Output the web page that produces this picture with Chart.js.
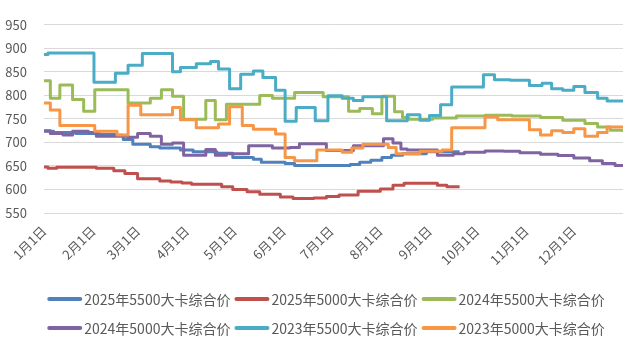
<!DOCTYPE html>
<html>
<head>
<meta charset="utf-8">
<script src="https://cdn.jsdelivr.net/npm/chart.js@4.4.0/dist/chart.umd.min.js"></script>
<style>
    html, body { margin: 0; padding: 0; background: #fff; }
    #wrap { width: 635px; height: 344px; }
</style>
</head>
<body>
<div id="wrap"><canvas id="priceChart" width="635" height="344"></canvas></div>
<script>
// 动力煤综合价 年度对比 (x = 一年中的第几天, y = 元/吨)
const monthLabels = ['1月1日', '2月1日', '3月1日', '4月1日', '5月1日', '6月1日',
                     '7月1日', '8月1日', '9月1日', '10月1日', '11月1日', '12月1日'];
const monthStartDays = [0, 31, 59, 90, 120, 151, 181, 212, 243, 273, 304, 334];

const seriesNames = ['2025年5500大卡综合价', '2025年5000大卡综合价', '2024年5500大卡综合价',
                     '2024年5000大卡综合价', '2023年5500大卡综合价', '2023年5000大卡综合价'];
const seriesColors = ['#4F81BD', '#C0504D', '#9BBB59', '#8064A2', '#4BACC6', '#F79646'];

// [day, price] - price holds until the next day listed
const price2025_5500 = [[0,724],[6,721],[20,719],[35,717],[45,715],[50,706],[56,696],[67,691],[73,688],
    [86,684],[94,680],[109,677],[119,668],[132,664],[137,658],[152,655],[158,651],[193,653],[199,658],
    [206,662],[213,668],[219,673],[226,676],[241,680],[262,680]];

const price2025_5000 = [[0,648],[2.5,645],[8,647],[33,645],[44,640],[51,634],[59,623],[73,618],[80,616],
    [87,614],[93,611],[112,606],[119,600],[128,595],[136,590],[149,584],[157,581],[170,582],[178,585],
    [186,588],[198,596],[212,601],[220,609],[227,613],[248,609],[254,606],[262,606]];

const price2024_5500 = [[0,831],[4,794],[10,822],[18,791],[25,766],[32,812],[53,784],[67,794],[74,812],
    [81,798],[88,749],[102,789],[108,748],[115,781],[136,800],[144,794],[158,806],[176,797],[192,766],
    [199,772],[207,761],[213,798],[221,765],[226,753],[230,749],[245,752],[260,756],[278,758],[295,756],
    [313,753],[327,747],[341,740],[349,733],[357,726],[365,722]];

const price2024_5000 = [[0,725],[4,719],[12,716],[18,724],[28,721],[33,713],[53,711],[59,719],[67,713],
    [74,696],[81,699],[88,673],[102,685],[108,673],[115,676],[129,693],[144,688],[155,689],[161,697],
    [178,683],[195,693],[214,708],[220,699],[225,686],[229,684],[248,673],[258,676],[265,679],[278,682],
    [290,681],[300,678],[313,675],[324,672],[334,667],[344,661],[352,655],[360,651],[365,650]];

const price2023_5500 = [[0,887],[2.5,890],[31.5,828],[45,847],[53,864],[62,889],[81,850],[86,859],
    [96,867],[105,872],[110,856],[117,814],[124,845],[132,852],[138,838],[146,811],[152,745],[159,774],
    [171,746],[179,799],[188,794],[195,789],[201,797],[216,746],[229,759],[237,747],[243,757],[250,780],
    [257,818],[277,844],[284,833],[294,832],[306,821],[314,826],[320,814],[327,811],[334,819],[341,806],
    [349,794],[355,788],[365,788]];

const price2023_5000 = [[0,784],[4,769],[10,736],[32,724],[46,716],[53,779],[61,759],[81,774],[86,748],
    [96,731],[110,739],[117,776],[125,736],[132,728],[146,718],[152,668],[158,661],[172,684],[188,679],
    [194,688],[201,696],[217,689],[222,676],[237,681],[251,684],[257,731],[278,754],[286,748],[306,727],
    [313,716],[320,725],[327,721],[334,729],[341,713],[349,721],[355,733],[365,733]];

const allSeries = [price2025_5500, price2025_5000, price2024_5500, price2024_5000, price2023_5500, price2023_5000];

const fontFamily = "'Noto Sans CJK SC', 'Noto Sans', sans-serif";
const textColor = '#595959';

// legend: two rows of three, drawn under the axis labels
const legendRows = [[0, 1, 2], [3, 4, 5]];
const legendLayout = { centerX: 326, rowY: [299, 328], lineW: 35, lineH: 4, textGap: 2, itemGap: 4 };

const bottomLegend = {
    id: 'bottomLegend',
    afterDraw(chart) {
        const ctx = chart.ctx;
        const L = legendLayout;
        ctx.save();
        ctx.font = '14px ' + fontFamily;
        ctx.textBaseline = 'middle';
        ctx.textAlign = 'left';
        legendRows.forEach((row, r) => {
            const widths = row.map(i => L.lineW + L.textGap + ctx.measureText(seriesNames[i]).width);
            const total = widths.reduce((a, b) => a + b, 0) + L.itemGap * (row.length - 1);
            let x = L.centerX - total / 2;
            const y = L.rowY[r];
            row.forEach((i, k) => {
                ctx.strokeStyle = seriesColors[i];
                ctx.lineWidth = L.lineH;
                ctx.lineCap = 'round';
                ctx.beginPath();
                ctx.moveTo(x + 2, y);
                ctx.lineTo(x + L.lineW - 2, y);
                ctx.stroke();
                ctx.fillStyle = textColor;
                ctx.fillText(seriesNames[i], x + L.lineW + L.textGap, y + 1);
                x += widths[k] + L.itemGap;
            });
        });
        ctx.restore();
    }
};

const datasets = allSeries.map((series, i) => ({
    label: seriesNames[i],
    data: series.map(p => ({ x: p[0], y: p[1] })),
    borderColor: seriesColors[i],
    backgroundColor: seriesColors[i],
    borderWidth: 3,
    borderJoinStyle: 'round',
    pointRadius: 0,
    stepped: true,
    // later series sit on top
    order: allSeries.length - i
}));

new Chart(document.getElementById('priceChart'), {
    type: 'line',
    data: { datasets: datasets },
    plugins: [bottomLegend],
    options: {
        responsive: false,
        animation: false,
        devicePixelRatio: 1,
        layout: { padding: { top: 5, right: 12, left: 0, bottom: 70 } },
        plugins: {
            tooltip: { enabled: false },
            legend: { display: false }
        },
        scales: {
            x: {
                type: 'linear',
                min: 0,
                max: 365,
                grid: { display: false },
                border: { display: false },
                afterBuildTicks: scale => {
                    scale.ticks = monthStartDays.map(d => ({ value: d }));
                },
                afterFit: scale => { scale.height = 61; },
                ticks: {
                    autoSkip: false,
                    maxRotation: 45,
                    minRotation: 45,
                    padding: 2,
                    color: textColor,
                    font: { family: fontFamily, size: 13 },
                    callback: value => monthLabels[monthStartDays.indexOf(value)]
                }
            },
            y: {
                min: 550,
                max: 950,
                grid: { color: '#D9D9D9', lineWidth: 1, drawTicks: false },
                border: { display: false },
                afterFit: scale => { scale.width = 44; },
                ticks: {
                    stepSize: 50,
                    padding: 17,
                    color: textColor,
                    font: { family: fontFamily, size: 13 }
                }
            }
        }
    }
});
</script>
</body>
</html>
